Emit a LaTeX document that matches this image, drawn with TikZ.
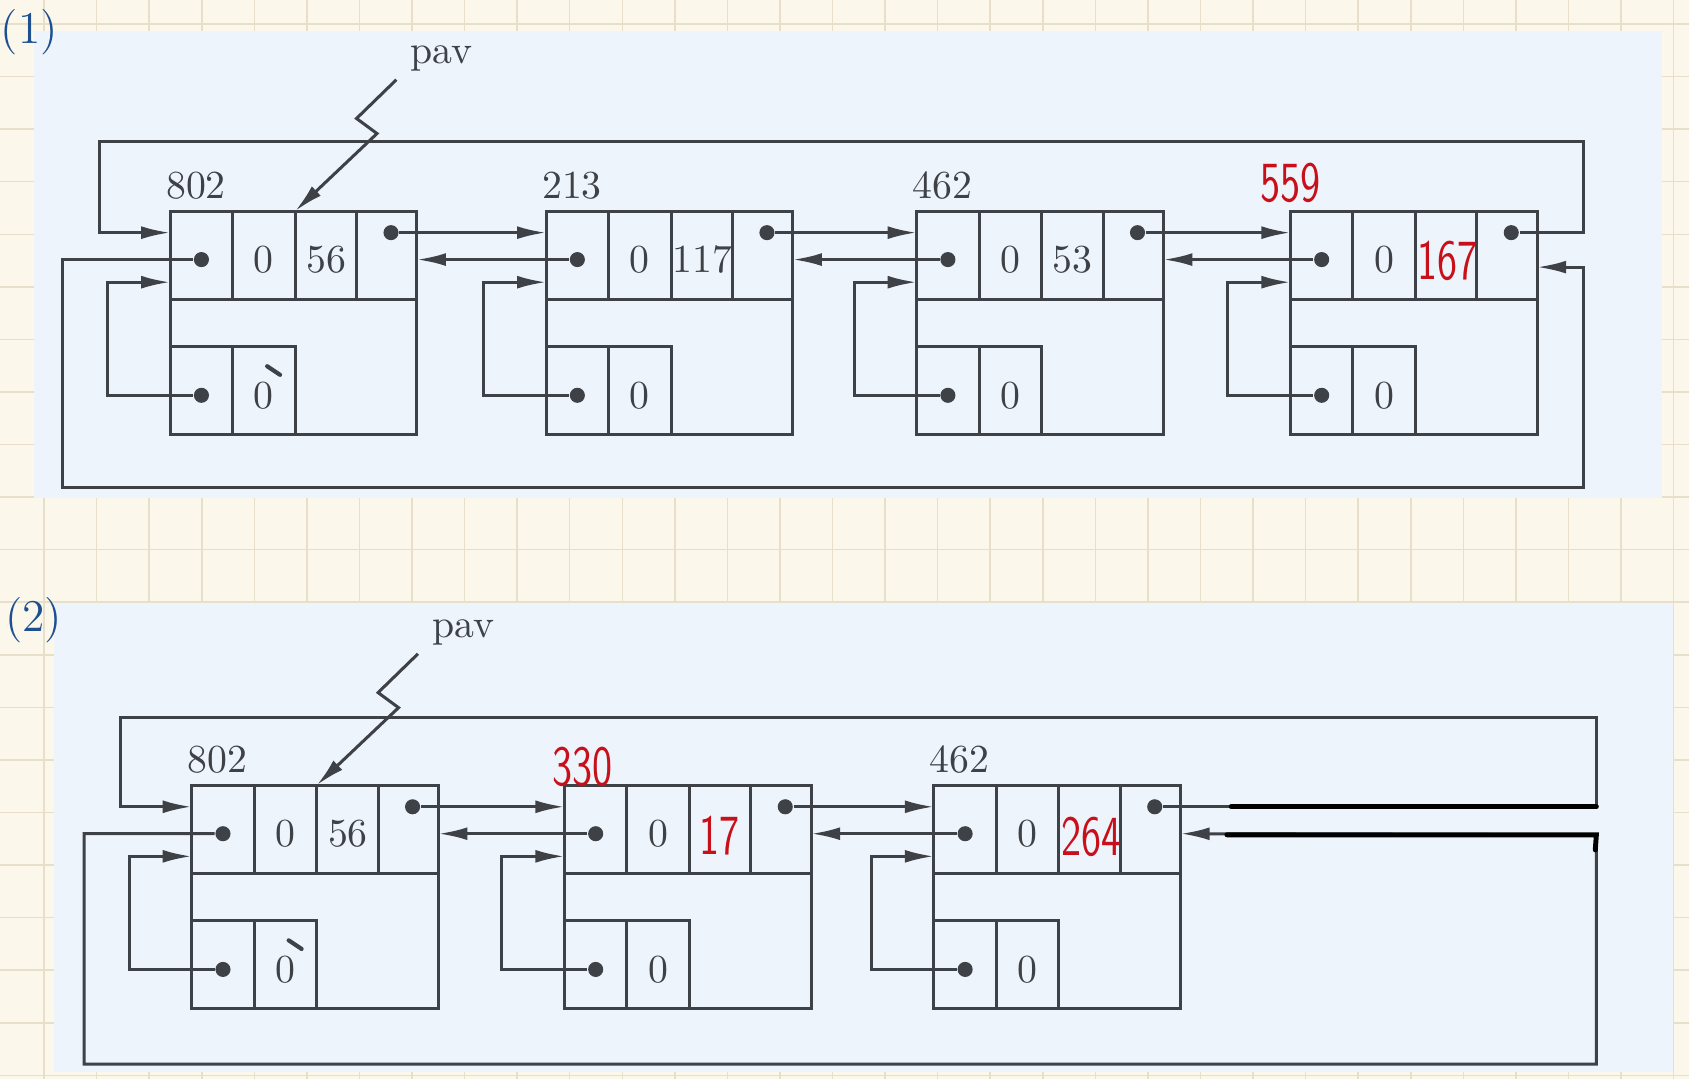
\documentclass[tikz,border=0pt]{standalone}
\usepackage{tikz}
\usetikzlibrary{calc,arrows.meta}
\definecolor{paper}{HTML}{FBF7EA}
\definecolor{gridln}{HTML}{E8DFCA}
\definecolor{panel}{HTML}{EEF4FB}
\definecolor{ink}{HTML}{3E4146}
\definecolor{pen}{HTML}{C8101A}
\definecolor{bluepen}{HTML}{1D4F91}
\newcommand{\hw}[1]{\scalebox{0.72}[1]{#1}}

\begin{document}
\begin{tikzpicture}[x=0.1mm,y=-0.1mm,
    ln/.style={draw=ink,line width=0.8pt},
    arr/.style={ln,-{Latex[length=2.7mm,width=1.2mm]}},
    dot/.style={circle,fill=ink,inner sep=0pt,minimum size=1.4mm},
    num/.style={text=ink,font=\fontsize{10.5}{12}\selectfont,inner sep=0pt},
    hand/.style={text=pen,font=\sffamily\fontsize{15}{17}\selectfont,inner sep=0pt},
    tag/.style={text=bluepen,font=\fontsize{12}{14}\selectfont,inner sep=0pt}]
  \useasboundingbox (0,0) rectangle (1568,1002);
  % paper and grid
  \fill[paper] (0,0) rectangle (1568,1002);
  \foreach \i in {0,...,31}
    \draw[gridln,line width=0.4pt] ({40.9+48.8*\i},0) -- ++(0,1002);
  \foreach \j in {0,...,20}
    \draw[gridln,line width=0.4pt] (0,{22.3+48.8*\j}) -- ++(1568,0);
  \fill[panel] (32,29) rectangle (1543,462);
  \fill[panel] (50,560) rectangle (1553,995);
  \node[tag,anchor=west] (t1) at (0,30) {(1)};
  \node[tag,anchor=west] (t2) at (4,576) {(2)};

  % blocks
  \foreach \n/\px/\py/\val/\lab in {a/158/196/56/802, b/507/196/117/213,
      c/851/196/53/462, d/1198/196/{}/{}, e/178/729/56/802,
      f/524/729/{}/{}, g/867/729/{}/462}{
    \begin{scope}[shift={(\px,\py)}]
      \draw[ln] (0,0) rectangle (229,207);
      \draw[ln] (0,82) -- (229,82);
      \draw[ln] (58,0) -- (58,82) (116,0) -- (116,82) (173,0) -- (173,82);
      \draw[ln] (0,126) rectangle (116,207) (58,126) -- (58,207);
      \node[dot] (\n-l) at (29,45) {};
      \node[dot] (\n-r) at (205,20) {};
      \node[dot] (\n-s) at (29,171) {};
      \node[num] (\n-t) at (87,45) {0};
      \node[num] (\n-v) at (145,45) {\val};
      \node[num] (\n-u) at (87,171) {0};
      \node[num] (\n-m) at (24,-24) {\lab};
      \coordinate (\n-in) at (0,20);
      \coordinate (\n-lp) at (0,66);
      \coordinate (\n-rt) at (229,45);
      \coordinate (\n-rb) at (229,52);
      \coordinate (\n-tp) at (116,0);
      \draw[arr] (\n-s) -- ++(-87,0) |- (\n-lp);
    \end{scope}
  }
  % ticks over the first lower 0
  \draw[ink,line width=1.1pt,line cap=round] ($(a-u)+(3,-27)$) -- ++(12,8);
  \draw[ink,line width=1.1pt,line cap=round] ($(e-u)+(3,-27)$) -- ++(12,8);

  % handwritten values
  \node[hand] (d-name) at (1198,170) {\hw{559}};
  \node[hand] (d-w) at (1344,242) {\hw{167}};
  \node[hand] (f-name) at (541,712) {\hw{330}};
  \node[hand] (f-w) at (668,776) {\hw{17}};
  \node[hand] (g-w) at (1013,777) {\hw{264}};

  % list (1)
  \draw[arr] (a-r) -- (b-in);
  \draw[arr] (b-r) -- (c-in);
  \draw[arr] (c-r) -- (d-in);
  \draw[arr] (b-l) -- (a-rt);
  \draw[arr] (c-l) -- (b-rt);
  \draw[arr] (d-l) -- (c-rt);
  \draw[arr] (d-r) -| (1470,131) -| (92,216) -- (a-in);
  \draw[arr] (a-l) -| (58,453) -| (1470,248) -- (d-rb);
  \node[num] (pav1) at (410,54) {pav};
  \coordinate (z1) at (368,74);
  \draw[arr] (z1) -- (331,110) -- (350,124) -- (a-tp);

  % list (2)
  \draw[arr] (e-r) -- (f-in);
  \draw[arr] (f-r) -- (g-in);
  \draw[arr] (f-l) -- (e-rt);
  \draw[arr] (g-l) -- (f-rt);
  \draw[arr] (g-r) -| (1482,666) -| (112,749) -- (e-in);
  \draw[arr] (e-l) -| (78,988) -| (1482,775) -- (g-rt);
  \node[num] (pav2) at (430,587) {pav};
  \coordinate (z2) at (388,607);
  \draw[arr] (z2) -- (351,643) -- (370,657) -- (e-tp);

  % pen corrections
  \coordinate (h1) at (1143,749);
  \coordinate (h2) at (1482,749);
  \coordinate (h3) at (1139,775);
  \coordinate (h4) at (1482,775);
  \draw[black,line width=1.3pt,line cap=round] (h1) -- (h2);
  \draw[black,line width=1.3pt,line cap=round] (h3) -- (h4) -- ++(-1,14);
\end{tikzpicture}
\end{document}
